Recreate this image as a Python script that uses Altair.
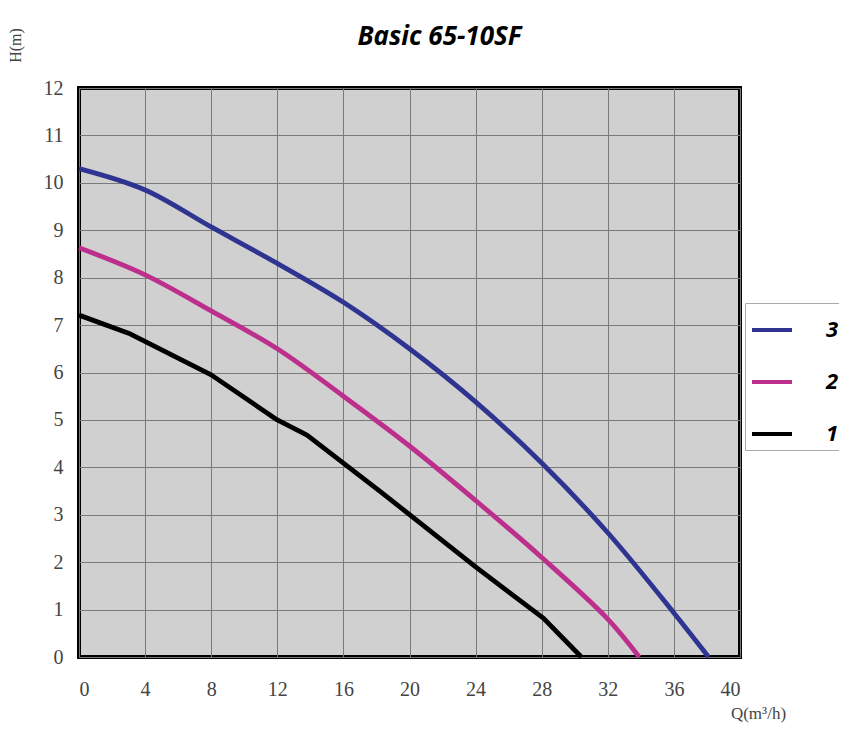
import altair as alt
import pandas as pd

# Curve 3 (blue)
q3 = [0, 4, 8, 12, 16, 20, 24, 28, 32, 36, 38.1]
h3 = [10.3, 9.85, 9.07, 8.3, 7.48, 6.5, 5.38, 4.09, 2.62, 0.93, 0.0]
# Curve 2 (magenta)
q2 = [0, 4, 8, 12, 16, 20, 24, 28, 32, 33.9]
h2 = [8.63, 8.06, 7.3, 6.5, 5.5, 4.45, 3.3, 2.1, 0.8, 0.0]
# Curve 1 (black)
q1 = [0, 3, 8, 12, 13.8, 18.2, 24, 28.1, 30.4]
h1 = [7.21, 6.83, 5.95, 5.0, 4.68, 3.5, 1.9, 0.82, 0.0]

series = ["3", "2", "1"]
colors = ["#2f3490", "#bd2f8c", "#000000"]
x_ticks = list(range(0, 41, 4))
y_ticks = list(range(0, 13, 1))

rows = []
for name, qs, hs in (("3", q3, h3), ("2", q2, h2), ("1", q1, h1)):
    for i, (q, h) in enumerate(zip(qs, hs)):
        rows.append({"curve": name, "Q": q, "H": h, "order": i})
df = pd.DataFrame(rows)

serif = "Liberation Serif"

x_enc = alt.X("Q:Q",
              scale=alt.Scale(domain=[0, 40], nice=False, zero=False),
              axis=alt.Axis(values=x_ticks, title="Q(m³/h)", grid=True,
                            ticks=False, domain=False, labelPadding=22,
                            labelFont=serif, labelFontSize=20, labelColor="#444",
                            titleFont=serif, titleFontSize=17, titleFontWeight="normal",
                            titleColor="#444", titleX=679, titleY=56,
                            titleAlign="center", titleBaseline="middle"))
y_enc = alt.Y("H:Q",
              scale=alt.Scale(domain=[0, 12], nice=False, zero=False),
              axis=alt.Axis(values=y_ticks, title="H(m)", grid=True,
                            ticks=False, domain=False, labelPadding=16,
                            labelFont=serif, labelFontSize=20, labelColor="#444",
                            titleFont=serif, titleFontSize=16, titleFontWeight="normal",
                            titleColor="#444", titleX=-64, titleY=-43, titleAngle=270,
                            titleAlign="center", titleBaseline="middle"))
color_enc = alt.Color("curve:N",
                      scale=alt.Scale(domain=series, range=colors),
                      legend=alt.Legend(title=None, orient="none", legendX=666, legendY=215,
                                        symbolType="stroke", symbolSize=1600,
                                        symbolStrokeWidth=4, labelFontSize=22,
                                        labelFontStyle="italic", labelFontWeight="bold",
                                        labelFont="Open Sans", labelColor="#000",
                                        labelOffset=32, rowPadding=19, padding=5,
                                        strokeColor="#aaaaaa", fillColor="white"))

base = alt.Chart(df)
smooth = base.transform_filter(alt.datum.curve != "1").mark_line(
    strokeWidth=4.8, interpolate="catmull-rom"
).encode(x=x_enc, y=y_enc, color=color_enc, order="order:Q")
straight = base.transform_filter(alt.datum.curve == "1").mark_line(
    strokeWidth=4.8, interpolate="linear", strokeJoin="round"
).encode(x=x_enc, y=y_enc, color=color_enc, order="order:Q")

chart = alt.layer(smooth, straight).properties(
    width=661, height=569,
    title=alt.TitleParams("Basic 65-10SF", font="Open Sans", fontSize=26,
                          fontStyle="italic", fontWeight="bold", color="#000",
                          anchor="middle", dx=30, offset=-22),
    autosize=alt.AutoSizeParams(type="none"),
    padding={"left": 71, "top": 80, "right": 99, "bottom": 76},
    background="white",
).configure_view(
    fill="#d0d0d0", stroke="#000000", strokeWidth=4
).configure_axis(
    gridColor="#7a7a7a", gridWidth=1, gridOpacity=1
)

chart.save("out.html", embed_options={"renderer": "svg", "actions": False})
